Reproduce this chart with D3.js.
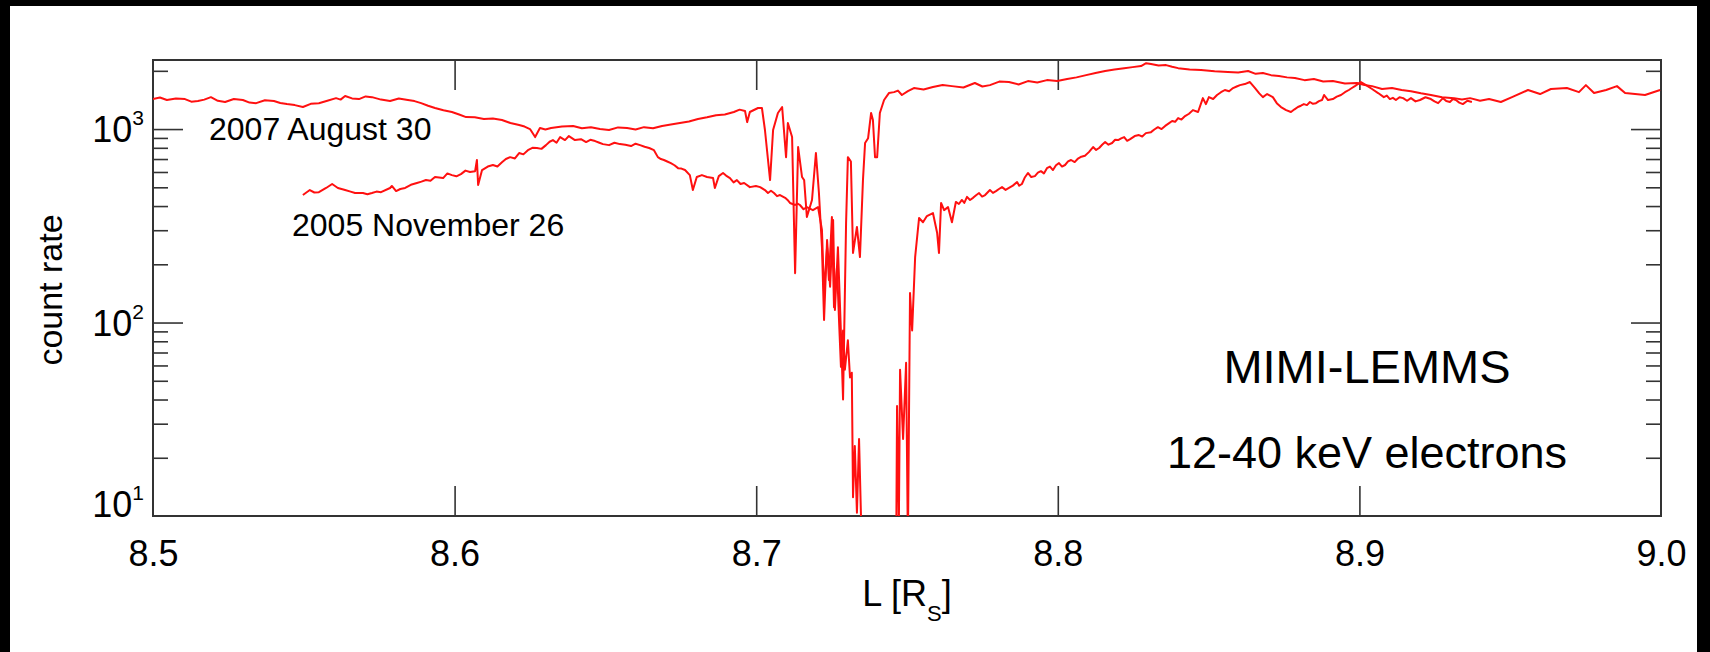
<!DOCTYPE html>
<html>
<head>
<meta charset="utf-8">
<script src="https://cdn.jsdelivr.net/npm/d3@7/dist/d3.min.js"></script>
<style>
  html, body { margin: 0; padding: 0; background: #000; }
  svg { display: block; }
  text { font-family: "Liberation Sans", Arial, sans-serif; fill: #000; }
</style>
</head>
<body>
<script>
// ---------- DATA ----------
// 2007 August 30 : L [R_S]
const aug2007L = [
8.5000,8.5023,8.5046,8.5076,8.5106,8.5127,8.5149,8.5170,8.5192,8.5215,
8.5239,8.5268,8.5298,8.5320,8.5342,8.5371,8.5401,8.5422,8.5444,8.5470,
8.5497,8.5523,8.5550,8.5578,8.5607,8.5622,8.5637,8.5660,8.5683,8.5705,
8.5726,8.5756,8.5786,8.5815,8.5845,8.5867,8.5889,8.5912,8.5935,8.5963,
8.5991,8.6015,8.6038,8.6067,8.6097,8.6127,8.6157,8.6185,8.6214,8.6232,
8.6250,8.6267,8.6283,8.6301,8.6320,8.6356,8.6393,8.6422,8.6452,8.6482,
8.6512,8.6542,8.6572,8.6600,8.6628,8.6658,8.6688,8.6717,8.6747,8.6777,
8.6807,8.6837,8.6867,8.6896,8.6926,8.6945,8.6963,8.6970,8.6979,8.7006,
8.7019,8.7029,8.7046,8.7056,8.7072,8.7086,8.7099,8.7105,8.7119,8.7129,
8.7139,8.7152,8.7159,8.7168,8.7185,8.7198,8.7208,8.7218,8.7225,8.7235,
8.7245,8.7255,8.7261,8.7271,8.7281,8.7288,8.7298,8.7304,8.7314,8.7321,
8.7334,8.7344,8.7354,8.7361,8.7371,8.7381,8.7387,8.7394,8.7401,8.7410,
8.7424,8.7440,8.7457,8.7470,8.7483,8.7503,8.7523,8.7555,8.7586,8.7618,
8.7649,8.7687,8.7725,8.7750,8.7775,8.7806,8.7838,8.7870,8.7901,8.7932,
8.7964,8.7998,8.8031,8.8062,8.8094,8.8125,8.8157,8.8188,8.8220,8.8248,
8.8276,8.8293,8.8309,8.8334,8.8359,8.8379,8.8399,8.8437,8.8475,8.8520,
8.8564,8.8598,8.8631,8.8656,8.8680,8.8707,8.8733,8.8760,8.8786,8.8818,
8.8849,8.8880,8.8912,8.8952,8.8992,8.9017,8.9042,8.9075,8.9108,8.9140,
8.9171,8.9204,8.9237,8.9274,8.9314,8.9340,8.9367,8.9400,8.9430,8.9469,
8.9506,8.9559,8.9599,8.9635,8.9688,8.9728,8.9751,8.9778,8.9818,8.9854,
8.9881,8.9914,8.9947,8.9997];
// 2007 August 30 : count rate
const aug2007Count = [
1429,1455,1413,1440,1429,1385,1396,1420,1462,1400,
1380,1430,1413,1370,1361,1410,1396,1365,1346,1330,
1300,1350,1361,1400,1445,1420,1483,1440,1429,1475,
1462,1420,1396,1440,1413,1395,1361,1320,1285,1250,
1225,1190,1153,1150,1127,1135,1114,1075,1050,1030,
1000,909,1012,995,1012,1030,1038,1010,1023,1000,
989,1020,1012,995,1023,1010,1038,1055,1074,1095,
1127,1150,1180,1190,1225,1260,1240,1086,1225,1285,
1285,989,545,989,1211,1300,716,1074,909,180,
807,565,545,351,430,752,467,245,103,267,
153,339,116,245,88,40,327,716,680,229,
312,218,545,847,897,1211,1114,716,716,1211,
1413,1535,1552,1580,1500,1570,1629,1600,1648,1690,
1667,1640,1730,1660,1687,1760,1750,1700,1770,1740,
1791,1770,1813,1850,1900,1950,1995,2030,2065,2090,
2118,2190,2168,2130,2141,2100,2065,2030,2017,1990,
1972,1960,1995,1930,1947,1900,1879,1850,1836,1790,
1813,1760,1770,1720,1730,1690,1667,1610,1629,1590,
1570,1530,1500,1462,1445,1420,1445,1400,1429,1380,
1462,1592,1517,1611,1629,1552,1687,1535,1592,1667,
1535,1517,1500,1592];

// 2005 November 26 : L [R_S]
const nov2005L = [
8.5497,8.5520,8.5535,8.5550,8.5574,8.5594,8.5613,8.5637,8.5655,8.5670,
8.5696,8.5711,8.5726,8.5741,8.5756,8.5786,8.5792,8.5806,8.5820,8.5836,
8.5855,8.5875,8.5890,8.5905,8.5920,8.5935,8.5962,8.5976,8.5991,8.6006,
8.6021,8.6036,8.6051,8.6068,8.6074,8.6078,8.6091,8.6110,8.6127,8.6142,
8.6157,8.6170,8.6184,8.6200,8.6214,8.6228,8.6243,8.6258,8.6273,8.6288,
8.6303,8.6315,8.6326,8.6338,8.6350,8.6366,8.6379,8.6399,8.6419,8.6436,
8.6450,8.6466,8.6480,8.6492,8.6512,8.6530,8.6548,8.6566,8.6585,8.6600,
8.6615,8.6630,8.6645,8.6661,8.6674,8.6684,8.6694,8.6705,8.6717,8.6729,
8.6741,8.6752,8.6764,8.6780,8.6790,8.6803,8.6820,8.6837,8.6857,8.6863,
8.6876,8.6890,8.6900,8.6913,8.6925,8.6936,8.6948,8.6960,8.6979,8.6999,
8.7013,8.7029,8.7039,8.7049,8.7059,8.7069,8.7079,8.7096,8.7104,8.7112,
8.7129,8.7137,8.7145,8.7157,8.7168,8.7178,8.7188,8.7205,8.7218,8.7225,
8.7235,8.7241,8.7251,8.7258,8.7268,8.7275,8.7281,8.7288,8.7294,8.7304,
8.7311,8.7317,8.7321,8.7327,8.7334,8.7341,8.7351,8.7380,8.7420,8.7464,
8.7467,8.7473,8.7477,8.7487,8.7497,8.7503,8.7510,8.7517,8.7527,8.7540,
8.7553,8.7566,8.7586,8.7600,8.7606,8.7613,8.7623,8.7636,8.7649,8.7662,
8.7672,8.7682,8.7690,8.7699,8.7709,8.7719,8.7729,8.7739,8.7749,8.7759,
8.7767,8.7775,8.7785,8.7795,8.7805,8.7815,8.7827,8.7838,8.7851,8.7865,
8.7872,8.7881,8.7890,8.7901,8.7912,8.7924,8.7934,8.7944,8.7954,8.7964,
8.7974,8.7984,8.7994,8.8004,8.8014,8.8024,8.8034,8.8044,8.8056,8.8067,
8.8078,8.8090,8.8103,8.8117,8.8127,8.8137,8.8147,8.8157,8.8168,8.8180,
8.8190,8.8200,8.8210,8.8220,8.8230,8.8240,8.8255,8.8269,8.8280,8.8292,
8.8309,8.8320,8.8332,8.8344,8.8356,8.8368,8.8379,8.8389,8.8399,8.8410,
8.8422,8.8435,8.8448,8.8465,8.8481,8.8491,8.8501,8.8515,8.8528,8.8541,
8.8554,8.8568,8.8581,8.8593,8.8604,8.8620,8.8637,8.8654,8.8668,8.8680,
8.8694,8.8713,8.8726,8.8740,8.8757,8.8773,8.8785,8.8796,8.8806,8.8816,
8.8826,8.8836,8.8846,8.8856,8.8866,8.8876,8.8883,8.8896,8.8912,8.8925,
8.8939,8.8952,8.8965,8.8975,8.8985,8.9005,8.9022,8.9042,8.9062,8.9081,
8.9091,8.9101,8.9111,8.9121,8.9133,8.9145,8.9158,8.9171,8.9186,8.9201,
8.9219,8.9237,8.9249,8.9261,8.9277,8.9288,8.9300,8.9310,8.9320,8.9331,
8.9343,8.9358,8.9373];
// 2005 November 26 : count rate
const nov2005Count = [
456,484,470,472,496,520,496,484,475,467,
467,460,467,475,472,496,508,478,490,496,
515,526,535,545,540,565,558,590,578,570,
585,610,600,606,692,514,614,640,652,640,
673,700,716,705,752,740,778,800,798,790,
826,860,877,850,909,877,920,877,887,857,
880,867,850,836,826,850,836,830,817,840,
826,810,798,778,716,700,692,680,667,650,
628,625,614,578,484,565,578,565,558,496,
571,593,575,558,530,545,520,526,501,508,
501,484,467,480,467,450,456,441,430,415,
405,412,405,385,395,388,381,395,301,142,
245,166,351,120,194,99,59,91,57,81,
52,55,12.5,23,10.4,25,6,4,4,6,
37,9,57,25,62,7,142,91,218,347,
330,355,368,290,229,415,381,395,330,420,
410,430,415,446,430,441,455,467,448,456,
470,484,468,478,490,501,485,496,510,532,
510,520,560,593,565,571,595,606,590,628,
640,614,650,667,640,652,680,692,675,704,
720,728,760,807,780,798,830,857,830,847,
880,877,895,909,870,887,920,931,915,953,
964,995,1023,1000,1038,1070,1100,1090,1140,1120,
1167,1200,1253,1225,1445,1346,1462,1430,1500,1550,
1592,1570,1629,1660,1687,1708,1750,1629,1530,1462,
1517,1462,1361,1300,1253,1225,1265,1300,1320,1346,
1330,1380,1350,1361,1395,1413,1500,1413,1429,1470,
1500,1550,1592,1630,1667,1750,1687,1611,1535,1462,
1490,1429,1450,1413,1460,1445,1400,1445,1390,1413,
1460,1429,1390,1361,1445,1395,1380,1430,1413,1370,
1346,1400,1380];

const xTickValues = [8.6, 8.7, 8.8, 8.9];
const xLabelValues = [8.5, 8.6, 8.7, 8.8, 8.9, 9.0];
const yMajorTicks = [100, 1000];
const yMinorTicks = [20,30,40,50,60,70,80,90,200,300,400,500,600,700,800,900,2000];
const yLabelValues = [10, 100, 1000];
const yLabelExponents = ["1", "2", "3"];

// ---------- CHART ----------
const W = 1710, H = 652;
const plot = { left: 153, right: 1661, top: 60, bottom: 516 };

const svg = d3.select("body").append("svg").attr("width", W).attr("height", H);
svg.append("rect").attr("width", W).attr("height", H).attr("fill", "#000");
svg.append("rect").attr("x", 10).attr("y", 6).attr("width", 1687).attr("height", 646).attr("fill", "#fff");

const x = d3.scaleLinear().domain([8.5, 9.0]).range([plot.left, plot.right]);
const y = d3.scaleLog().domain([10, 2275]).range([plot.bottom, plot.top]);

svg.append("clipPath").attr("id", "clip").append("rect")
  .attr("x", plot.left).attr("y", plot.top)
  .attr("width", plot.right - plot.left).attr("height", plot.bottom - plot.top);

function styleAxis(g) {
  g.select(".domain").remove();
  g.selectAll(".tick line").attr("stroke", "#333").attr("stroke-width", 1.6);
}

// x ticks (bottom & top, inward)
svg.append("g").attr("transform", `translate(0,${plot.bottom})`)
  .call(d3.axisBottom(x).tickValues(xTickValues).tickSize(-30).tickFormat(""))
  .call(styleAxis);
svg.append("g").attr("transform", `translate(0,${plot.top})`)
  .call(d3.axisTop(x).tickValues(xTickValues).tickSize(-30).tickFormat(""))
  .call(styleAxis);

// x labels
const xl = svg.append("g").attr("transform", `translate(0,${plot.bottom})`)
  .call(d3.axisBottom(x).tickValues(xLabelValues).tickSize(0).tickPadding(24).tickFormat(d3.format(".1f")));
xl.select(".domain").remove();
xl.selectAll("text").attr("font-size", 36).attr("font-family", "Liberation Sans, Arial, sans-serif").attr("fill", "#000");

// y ticks left & right
[[d3.axisLeft, plot.left], [d3.axisRight, plot.right]].forEach(([ax, px]) => {
  svg.append("g").attr("transform", `translate(${px},0)`)
    .call(ax(y).tickValues(yMajorTicks).tickSize(-30).tickFormat(""))
    .call(styleAxis);
  svg.append("g").attr("transform", `translate(${px},0)`)
    .call(ax(y).tickValues(yMinorTicks).tickSize(-15).tickFormat(""))
    .call(styleAxis);
});

// y labels with superscripts
yLabelValues.forEach((v, i) => {
  const base = (i === 0) ? y(v) + 1 : y(v) + 13;
  const t = svg.append("text").attr("x", 144).attr("y", base)
    .attr("text-anchor", "end").attr("font-size", 36);
  t.append("tspan").text("10");
  t.append("tspan").attr("font-size", 21).attr("dy", -17).text(yLabelExponents[i]);
});

// frame
svg.append("rect").attr("x", plot.left).attr("y", plot.top)
  .attr("width", plot.right - plot.left).attr("height", plot.bottom - plot.top)
  .attr("fill", "none").attr("stroke", "#333").attr("stroke-width", 2);

// lines
const line = d3.line().x(d => x(d[0])).y(d => y(d[1]));
const nA = Math.min(aug2007L.length, aug2007Count.length);
const nB = Math.min(nov2005L.length, nov2005Count.length);
const seriesA = aug2007L.slice(0, nA).map((l, i) => [l, aug2007Count[i]]);
const seriesB = nov2005L.slice(0, nB).map((l, i) => [l, nov2005Count[i]]);
const lg = svg.append("g").attr("clip-path", "url(#clip)");
[seriesA, seriesB].forEach(s => {
  lg.append("path").attr("d", line(s)).attr("fill", "none")
    .attr("stroke", "#ff1010").attr("stroke-width", 2).attr("stroke-linejoin", "round");
});

// annotations
svg.append("text").attr("x", 209).attr("y", 140).attr("font-size", 32).text("2007 August 30");
svg.append("text").attr("x", 292).attr("y", 236).attr("font-size", 32).text("2005 November 26");
svg.append("text").attr("x", 1367).attr("y", 383).attr("text-anchor", "middle").attr("font-size", 47).text("MIMI-LEMMS");
svg.append("text").attr("x", 1367).attr("y", 468).attr("text-anchor", "middle").attr("font-size", 45).text("12-40 keV electrons");

// axis titles
svg.append("text").attr("transform", "translate(62,290) rotate(-90)")
  .attr("text-anchor", "middle").attr("font-size", 34).text("count rate");
const xt = svg.append("text").attr("x", 907).attr("y", 606).attr("text-anchor", "middle").attr("font-size", 36);
xt.append("tspan").text("L [R");
xt.append("tspan").attr("font-size", 22).attr("dy", 15).text("S");
xt.append("tspan").attr("dy", -15).text("]");
</script>
</body>
</html>
